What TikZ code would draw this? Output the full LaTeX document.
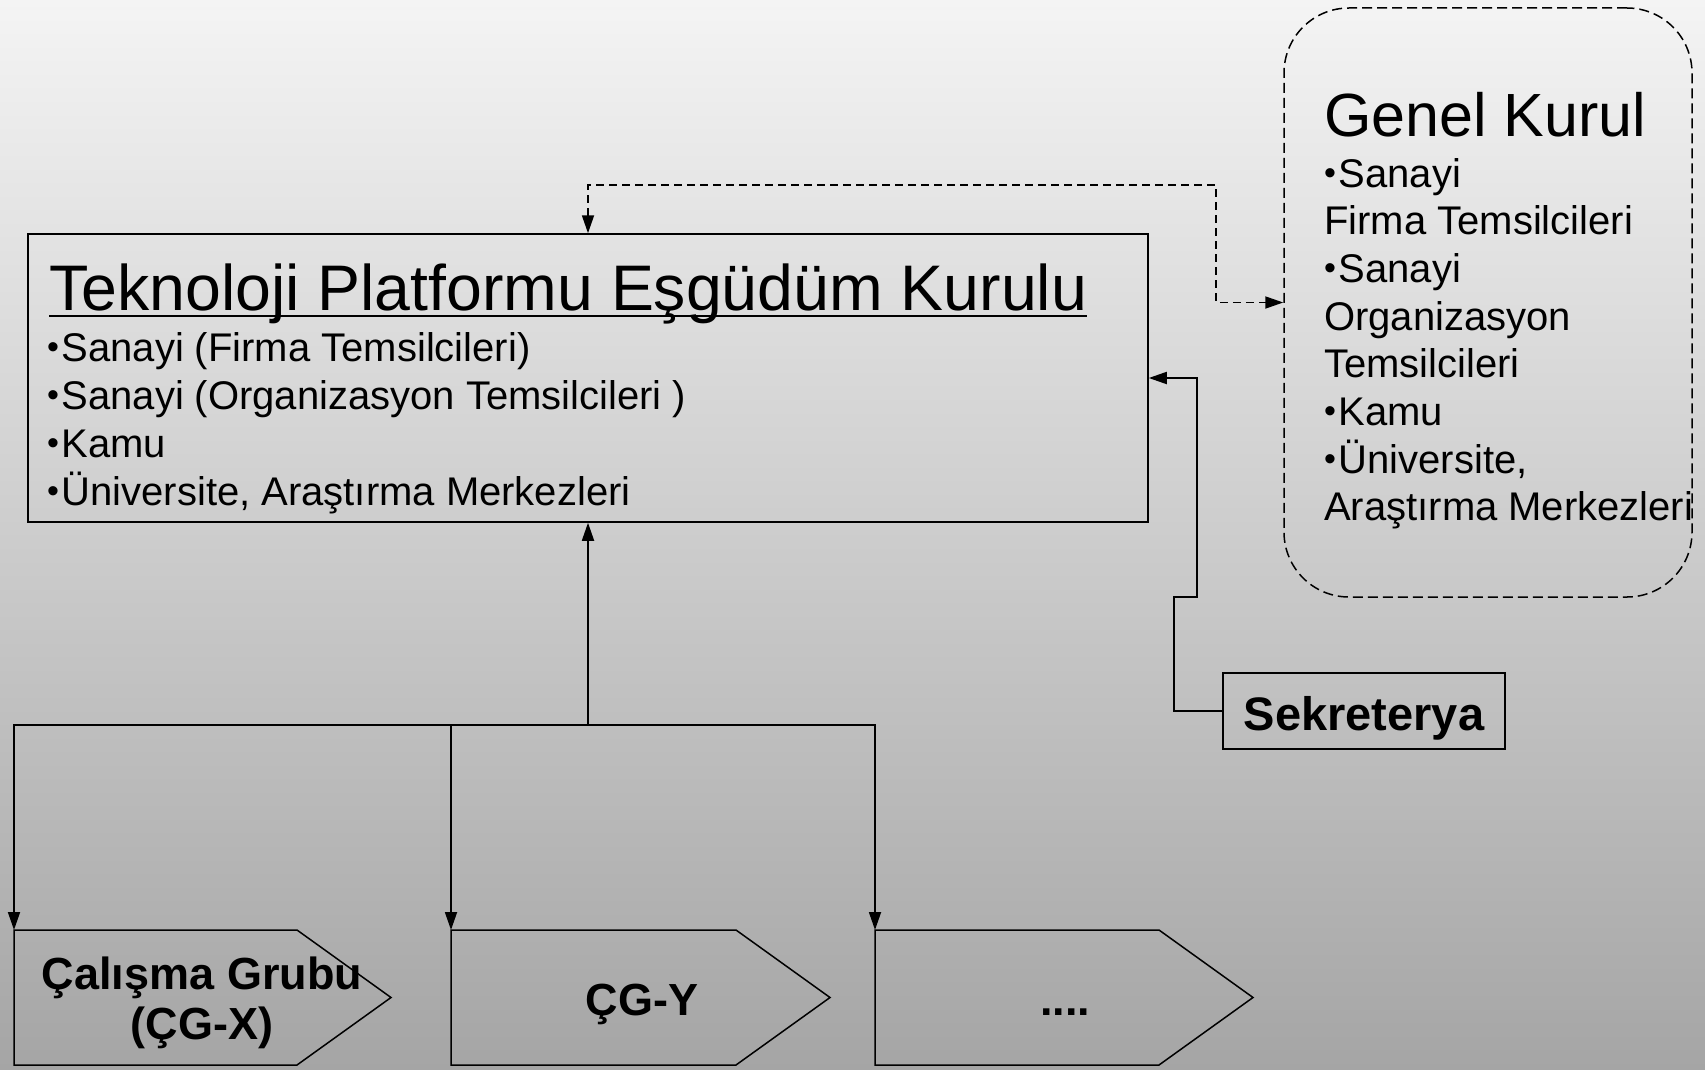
\documentclass[tikz,border=0pt]{standalone}
\usepackage{fontspec}
\usepackage{graphicx}
\setmainfont{Liberation Sans}
\usetikzlibrary{arrows.meta}
\definecolor{bgtop}{RGB}{244,244,244}
\definecolor{bgbot}{RGB}{165,165,165}
\newcommand\bul{\makebox[0.36em][l]{\raisebox{0.07em}{\scalebox{0.85}{•}}}}
\begin{document}
\begin{tikzpicture}[x=1pt,y=1pt,
  box/.style={draw, line width=1.5pt, inner sep=0pt},
  tip/.style={-{Triangle[length=18pt,width=12pt]}},
  conn/.style={line width=1.8pt, tip},
  dconn/.style={line width=1.8pt, dash pattern=on 8pt off 5pt, {Triangle[length=18pt,width=12pt]}-{Triangle[length=18pt,width=12pt]}},
  pent/.style={draw, line width=1.5pt},
  txt/.style={anchor=base west, inner sep=0pt, font=\fontsize{40}{48}\selectfont},
  cgtxt/.style={inner sep=0pt, align=center, font=\bfseries\fontsize{45}{50}\selectfont}]
\shade[top color=bgtop, bottom color=bgbot] (0,0) rectangle (1705,-1070);
\useasboundingbox (0,0) rectangle (1705,-1070);

% main box
\node[box, minimum width=1120pt, minimum height=288pt] (tp) at (588,-378) {};
\node[anchor=base west, inner sep=0pt, font=\fontsize{64.4}{70}\selectfont] (tptitle) at (49,-310) {Teknoloji Platformu Eşgüdüm Kurulu};
\draw[line width=2.8pt] ([yshift=-6pt]tptitle.base west) -- ([yshift=-6pt]tptitle.base east);
\node[txt] (tp1) at (47,-361) {\bul Sanayi (Firma Temsilcileri)};
\node[txt] (tp2) at (47,-409) {\bul Sanayi (Organizasyon Temsilcileri )};
\node[txt] (tp3) at (47,-457) {\bul Kamu};
\node[txt] (tp4) at (47,-505) {\bul Üniversite, Araştırma Merkezleri};

% Genel Kurul
\node[draw, line width=1.5pt, dash pattern=on 10pt off 5pt, rounded corners=65pt, minimum width=408pt, minimum height=589pt, inner sep=0pt] (gk) at (1488,-302.5) {};
\node[anchor=base west, inner sep=0pt, font=\fontsize{61}{66}\selectfont] (gktitle) at (1324,-136) {Genel Kurul};
\node[txt] (gk1) at (1324,-187) {\bul Sanayi};
\node[txt] (gk2) at (1324,-234.7) {Firma Temsilcileri};
\node[txt] (gk3) at (1324,-282.4) {\bul Sanayi};
\node[txt] (gk4) at (1324,-330.1) {Organizasyon};
\node[txt] (gk5) at (1324,-377.8) {Temsilcileri};
\node[txt] (gk6) at (1324,-425.5) {\bul Kamu};
\node[txt] (gk7) at (1324,-473.2) {\bul Üniversite,};
\node[txt] (gk8) at (1324,-520.9) {Araştırma Merkezleri};

% Sekreterya
\node[box, minimum width=282pt, minimum height=76pt, text height=38pt, text depth=0pt, font=\bfseries\fontsize{47}{50}\selectfont] (sek) at (1364,-711) {Sekreterya};

% connectors
\draw[conn] (sek.west) -- (1174,-711) -- (1174,-597) -- (1197,-597) -- (1197,-378) -- (tp.east);
\draw[dconn] (tp.north) |- (1216,-185) |- (gk.west);

% pentagons
\coordinate (p1) at (14,-930);
\coordinate (p2) at (451,-930);
\coordinate (p3) at (875,-930);
\draw[pent] (p1) -- ++(283,0) -- ++(94,-67.5) -- ++(-94,-67.5) -- ++(-283,0) -- cycle;
\draw[pent] (p2) -- ++(285,0) -- ++(94,-67.5) -- ++(-94,-67.5) -- ++(-285,0) -- cycle;
\draw[pent] (p3) -- ++(284,0) -- ++(94,-67.5) -- ++(-94,-67.5) -- ++(-284,0) -- cycle;
\node[cgtxt] (cgx) at (202,-1003) {Çalışma Grubu\\(ÇG-X)};
\node[cgtxt, anchor=base] (cgy) at (642,-1015) {ÇG-Y};
\node[cgtxt, anchor=base] (cgz) at (1065,-1015) {....};

% bus
\coordinate (bus) at (588,-725);
\draw[conn] (bus) -- (tp.south);
\draw[conn] (bus) -| (p1);
\draw[conn] (bus) -| (p2);
\draw[conn] (bus) -| (p3);
\end{tikzpicture}
\end{document}
